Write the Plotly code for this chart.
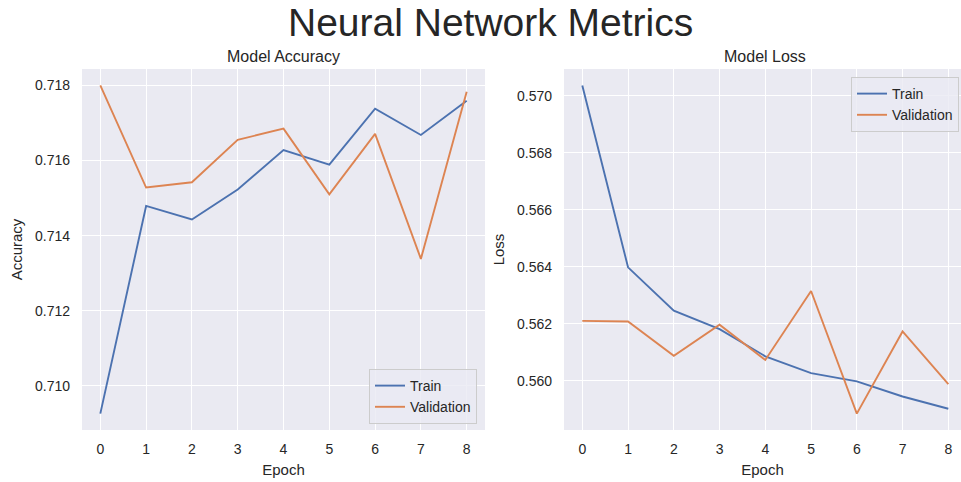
import plotly.graph_objects as go

epochs = [0, 1, 2, 3, 4, 5, 6, 7, 8]
train_acc = [0.70926, 0.71479, 0.71443, 0.71523, 0.71628, 0.71589, 0.71738, 0.71668, 0.71759]
val_acc = [0.71800, 0.71528, 0.71542, 0.71655, 0.71685, 0.71510, 0.71671, 0.71338, 0.71783]
train_loss = [0.57036, 0.56398, 0.56246, 0.56181, 0.56086, 0.56027, 0.55998, 0.55945, 0.55902]
val_loss = [0.56210, 0.56208, 0.56088, 0.56197, 0.56073, 0.56315, 0.55885, 0.56173, 0.55988]
acc_ticks = [0.710, 0.712, 0.714, 0.716, 0.718]
loss_ticks = [0.560, 0.562, 0.564, 0.566, 0.568, 0.570]

BLUE = "#4C72B0"
ORANGE = "#DD8452"
TXT = "#262626"
FONT = "Liberation Sans, Arial, sans-serif"
W, H = 961, 482


def pad_range(a, b):
    lo = min(min(a), min(b))
    hi = max(max(a), max(b))
    m = (hi - lo) * 0.05
    return [lo - m, hi + m]


fig = go.Figure()
fig.add_trace(go.Scatter(x=epochs, y=train_acc, mode="lines", name="Train",
                         line=dict(color=BLUE, width=1.9), xaxis="x", yaxis="y", legend="legend"))
fig.add_trace(go.Scatter(x=epochs, y=val_acc, mode="lines", name="Validation",
                         line=dict(color=ORANGE, width=1.9), xaxis="x", yaxis="y", legend="legend"))
fig.add_trace(go.Scatter(x=epochs, y=train_loss, mode="lines", name="Train",
                         line=dict(color=BLUE, width=1.9), xaxis="x2", yaxis="y2", legend="legend2"))
fig.add_trace(go.Scatter(x=epochs, y=val_loss, mode="lines", name="Validation",
                         line=dict(color=ORANGE, width=1.9), xaxis="x2", yaxis="y2", legend="legend2"))

ydom = [1 - 430 / H, 1 - 69 / H]
axis_common = dict(showgrid=True, gridcolor="white", gridwidth=1.2, zeroline=False,
                   showline=False, ticks="", tickfont=dict(size=14, color=TXT, family=FONT),
                   title_font=dict(size=15, color=TXT, family=FONT))

fig.update_layout(
    width=W, height=H, margin=dict(l=0, r=0, t=0, b=0),
    paper_bgcolor="white", plot_bgcolor="#EAEAF2",
    font=dict(family=FONT, color=TXT),
    xaxis=dict(domain=[82 / W, 485 / W], range=[-0.4, 8.4], tickmode="array", tickvals=epochs,
               title=dict(text="Epoch", standoff=8), ticklabelstandoff=9, anchor="y", **axis_common),
    yaxis=dict(domain=ydom, range=pad_range(train_acc, val_acc), tickmode="array", tickvals=acc_ticks,
               tickformat=".3f", title=dict(text="Accuracy", standoff=8), ticklabelstandoff=11,
               anchor="x", **axis_common),
    xaxis2=dict(domain=[564 / W, 1.0], range=[-0.4, 8.277], tickmode="array", tickvals=epochs,
                title=dict(text="Epoch", standoff=8), ticklabelstandoff=9, anchor="y2", **axis_common),
    yaxis2=dict(domain=ydom, range=pad_range(train_loss, val_loss), tickmode="array", tickvals=loss_ticks,
                tickformat=".3f", title=dict(text="Loss", standoff=8), ticklabelstandoff=11,
                anchor="x2", **axis_common),
    legend=dict(x=477 / W, y=1 - 424 / H, xanchor="right", yanchor="bottom",
                bgcolor="rgba(234,234,242,0.8)", bordercolor="#CCCCCC", borderwidth=1,
                font=dict(size=14, color=TXT, family=FONT)),
    legend2=dict(x=959 / W, y=1 - 77 / H, xanchor="right", yanchor="top",
                 bgcolor="rgba(234,234,242,0.8)", bordercolor="#CCCCCC", borderwidth=1,
                 font=dict(size=14, color=TXT, family=FONT)),
    annotations=[
        dict(text="Neural Network Metrics", x=490 / W, y=1 - 22.5 / H, xref="paper", yref="paper",
             xanchor="center", yanchor="middle", showarrow=False, borderpad=0,
             font=dict(size=39, color=TXT, family=FONT)),
        dict(text="Model Accuracy", x=283.5 / W, y=1 - 56 / H, xref="paper", yref="paper",
             xanchor="center", yanchor="middle", showarrow=False,
             font=dict(size=16, color=TXT, family=FONT)),
        dict(text="Model Loss", x=765 / W, y=1 - 56 / H, xref="paper", yref="paper",
             xanchor="center", yanchor="middle", showarrow=False,
             font=dict(size=16, color=TXT, family=FONT)),
    ],
)

fig.write_html("out.html")
